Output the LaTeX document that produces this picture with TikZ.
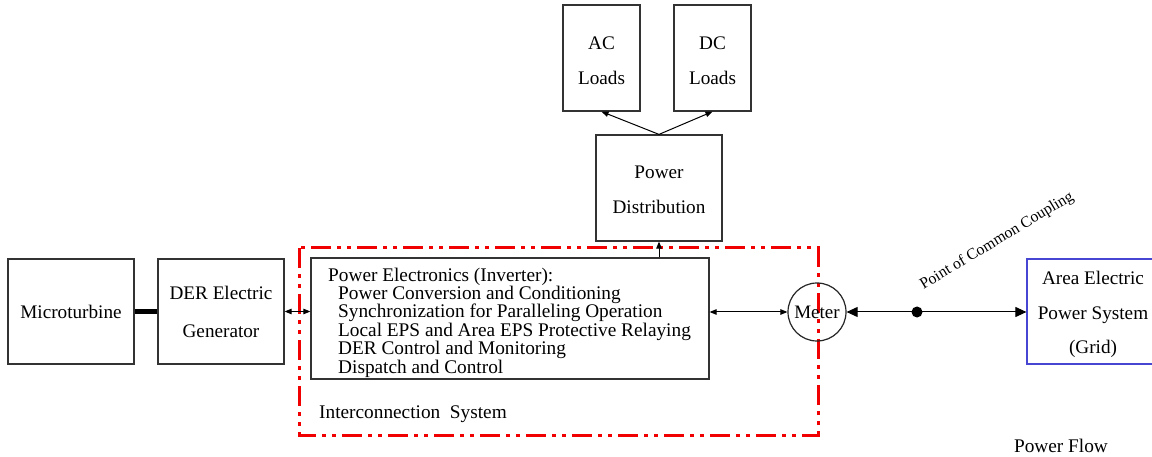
\documentclass[tikz,border=0pt]{standalone}
\usepackage{fontspec}
\setmainfont{Liberation Serif}
\usetikzlibrary{arrows.meta,calc}
\definecolor{redline}{RGB}{240,0,0}
\definecolor{gridblue}{RGB}{70,70,210}
\newcommand{\lowerby}[1]{\rule{0pt}{#1}}
\begin{document}
\begin{tikzpicture}[x=1pt,y=-1pt,
  box/.style={draw=black!80,line width=1.2pt,inner sep=0pt,align=center,
    font=\fontsize{19.2}{36}\selectfont},
  conn/.style={line width=1pt,{Triangle[length=7pt,width=5.5pt]}-{Triangle[length=7pt,width=5.5pt]}},
  oneway/.style={line width=1pt,-{Triangle[length=7pt,width=5.5pt]}},
  bigconn/.style={line width=1pt,{Triangle[length=11pt,width=10pt]}-{Triangle[length=11pt,width=10pt]}},
  lbl/.style={font=\fontsize{19.3}{20}\selectfont,inner sep=0pt}]
\useasboundingbox (0,0) rectangle (1152,457);
\fill[white] (0,0) rectangle (1152,457);
% red interconnection boundary
\draw[redline,line width=3pt,dash pattern=on 20pt off 6pt on 4pt off 6pt on 4pt off 6pt]
  (299,248) rectangle (818,435);
% boxes
\node[box,minimum width=126pt,minimum height=105pt] (mt) at (71,311.5) {Microturbine};
\node[box,minimum width=126pt,minimum height=105pt,font=\fontsize{19.2}{38}\selectfont] (der) at (221,311.5) {DER Electric\\Generator};
\node[box,minimum width=398pt,minimum height=121pt] (pe) at (510,318.5) {};
\node[anchor=north west,align=left,inner sep=0pt,font=\fontsize{19.3}{18.4}\selectfont] (petext) at (328,267.5)
  {Power Electronics (Inverter):\\
   \hspace*{10pt}Power Conversion and Conditioning\\
   \hspace*{10pt}Synchronization for Paralleling Operation\\
   \hspace*{10pt}Local EPS and Area EPS Protective Relaying\\
   \hspace*{10pt}DER Control and Monitoring\\
   \hspace*{10pt}Dispatch and Control};
\node[box,minimum width=126pt,minimum height=106pt,font=\fontsize{19.2}{35}\selectfont] (pd) at (659,188) {\lowerby{17pt}Power\\Distribution};
\node[box,minimum width=77pt,minimum height=106pt,font=\fontsize{19.2}{35}\selectfont] (ac) at (601.5,58) {\lowerby{19pt}AC\\Loads};
\node[box,minimum width=77pt,minimum height=106pt,font=\fontsize{19.2}{35}\selectfont] (dc) at (712.5,58) {\lowerby{19pt}DC\\Loads};
\node[draw=black!85,circle,line width=1.2pt,minimum size=58pt,inner sep=0pt,font=\fontsize{19}{20}\selectfont] (meter) at (817,312) {Meter};
\node[box,draw=gridblue,minimum width=132pt,minimum height=105pt,font=\fontsize{19.2}{34.5}\selectfont] (grid) at (1093,311.5) {\lowerby{20pt}Area Electric\\Power System\\(Grid)};
% connectors
\draw[line width=5pt] (mt.east) -- (der.west);
\draw[conn] (der.east) -- (pe.west |- der.east);
\draw[oneway] (pe.north -| pd.south) -- (pd.south);
\draw[oneway] (pd.north) -- (ac.south);
\draw[oneway] (pd.north) -- (dc.south);
\draw[conn] (pe.east |- meter.west) -- (meter.west);
\coordinate (pcc) at (917,312);
\draw[bigconn] (meter.east) -- (grid.west |- meter.east);
\fill (pcc) circle (5.5pt);
% labels
\node[lbl,font=\fontsize{15.8}{17}\selectfont,rotate=31] (pcclbl) at (997,241) {Point of Common Coupling};
\node[lbl,anchor=west] (ics) at (319,414.5) {Interconnection\ \ System};
\node[lbl] (pf) at (1061,446) {Power Flow};
\end{tikzpicture}
\end{document}
